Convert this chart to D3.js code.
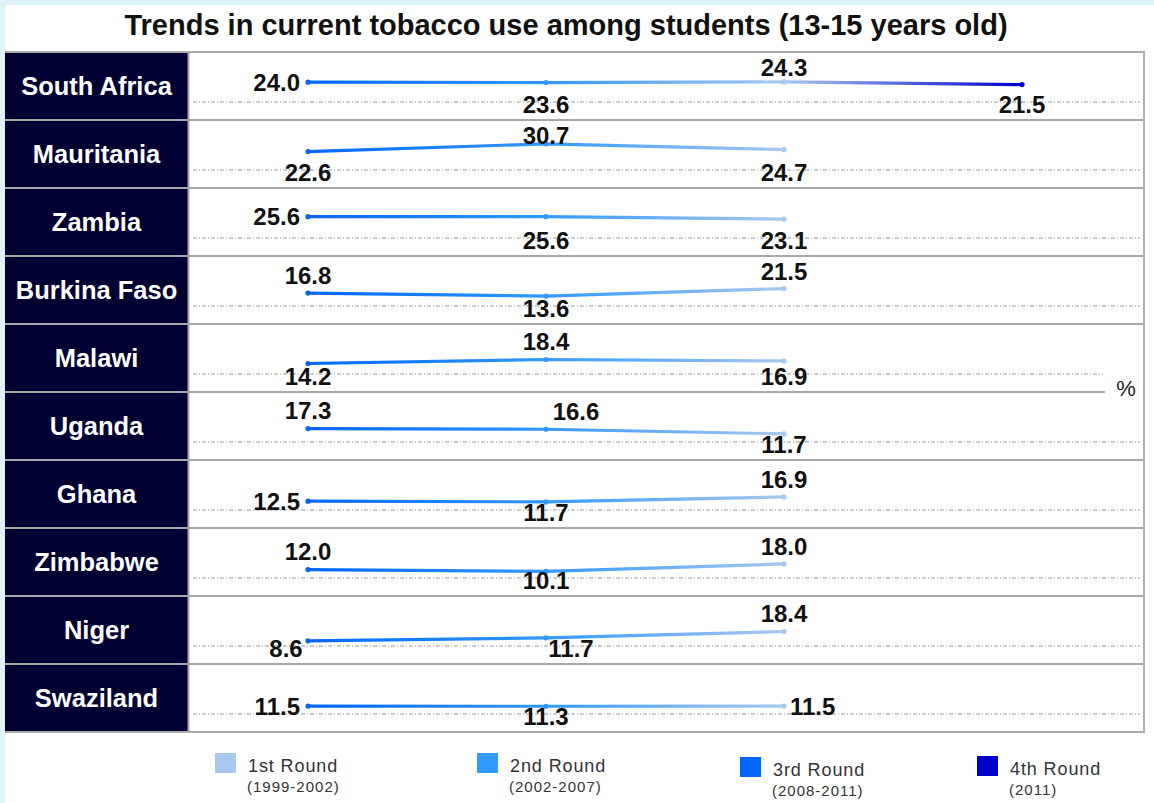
<!DOCTYPE html>
<html><head><meta charset="utf-8">
<script src="https://cdn.jsdelivr.net/npm/d3@7"></script>
<style>
html,body{margin:0;padding:0;background:#dff3fd;overflow:hidden;}
svg{display:block;font-family:"Liberation Sans",Arial,sans-serif;}
</style></head><body>
<svg id="chart" width="1154" height="803"></svg>
<script>
// Current tobacco use (%) among students aged 13-15, by survey round
const countries = ["South Africa","Mauritania","Zambia","Burkina Faso","Malawi","Uganda","Ghana","Zimbabwe","Niger","Swaziland"];
const rounds = ["1st Round","2nd Round","3rd Round","4th Round"];
const roundYears = ["(1999-2002)","(2002-2007)","(2008-2011)","(2011)"];
const roundColors = ["#a8c8ef","#3399ff","#0066ff","#0000cc"];

const southAfrica = [24.0,23.6,24.3,21.5];
const mauritania  = [22.6,30.7,24.7];
const zambia      = [25.6,25.6,23.1];
const burkinaFaso = [16.8,13.6,21.5];
const malawi      = [14.2,18.4,16.9];
const uganda      = [17.3,16.6,11.7];
const ghana       = [12.5,11.7,16.9];
const zimbabwe    = [12.0,10.1,18.0];
const niger       = [8.6,11.7,18.4];
const swaziland   = [11.5,11.3,11.5];
const series = [southAfrica,mauritania,zambia,burkinaFaso,malawi,uganda,ghana,zimbabwe,niger,swaziland];

// where each value label sits relative to its point
const labelSide = [
  ["left","below","above","below"],
  ["below","above","below"],
  ["left","below","below"],
  ["above","below","above"],
  ["below","above","below"],
  ["above","aboveRight","below"],
  ["left","below","above"],
  ["above","below","above"],
  ["belowLeft","belowRight","above"],
  ["left","below","right"]
];
// colour carried by the line at each point position (indices into roundColors)
const pointColorIndex = [2,1,0,3];

const svg = d3.select("#chart");

const panel = {left:5, right:1154, top:5, bottom:803};
const plotTop = 52, plotBottom = 732, labelRight = 188, plotRight = 1144;

svg.append("rect").attr("x",panel.left).attr("y",panel.top)
  .attr("width",panel.right-panel.left).attr("height",panel.bottom-panel.top)
  .attr("fill","#fff");

svg.append("text").attr("x",566).attr("y",35).attr("text-anchor","middle")
  .attr("font-size",29).attr("font-weight","bold").attr("fill","#111")
  .text("Trends in current tobacco use among students (13-15 years old)");

const row = d3.scaleBand().domain(countries).range([plotTop,plotBottom]);
const x = d3.scalePoint().domain(rounds).range([308,1022]);
const yIn = d3.scaleLinear().domain([0,40]).range([53,15]);
const baseY = 50;

// label column
svg.append("rect").attr("x",panel.left).attr("y",plotTop)
  .attr("width",labelRight-panel.left).attr("height",plotBottom-plotTop)
  .attr("fill","#000033");

const defs = svg.append("defs");

const rows = svg.selectAll("g.row").data(countries).join("g")
  .attr("class","row")
  .attr("transform",d=>`translate(0,${row(d)})`);

rows.append("text")
  .attr("x",(panel.left+labelRight)/2).attr("y",row.bandwidth()/2)
  .attr("dy","0.36em").attr("text-anchor","middle")
  .attr("font-size",25.5).attr("font-weight","bold").attr("fill","#fff")
  .text(d=>d);

// dotted reference line in each row
rows.append("line")
  .attr("x1",193).attr("x2",(d,i)=>i===4?1103:1140)
  .attr("y1",baseY).attr("y2",baseY)
  .attr("stroke","#9a9a9a").attr("stroke-width",1.2)
  .attr("stroke-dasharray","4,2,1,2");

// row separators
const edges = d3.range(countries.length+1).map(i=>plotTop+i*row.bandwidth());
svg.selectAll("line.sep").data(edges).join("line")
  .attr("class","sep")
  .attr("x1",panel.left).attr("x2",(d,i)=>i===5?1105:plotRight)
  .attr("y1",d=>d).attr("y2",d=>d)
  .attr("stroke","#a8a8a8").attr("stroke-width",2);
svg.append("line").attr("x1",labelRight+0.5).attr("x2",labelRight+0.5)
  .attr("y1",plotTop).attr("y2",plotBottom).attr("stroke","#a8a8a8").attr("stroke-width",2);
svg.append("line").attr("x1",plotRight).attr("x2",plotRight)
  .attr("y1",plotTop-1).attr("y2",plotBottom+1).attr("stroke","#b0b0b0").attr("stroke-width",2);

svg.append("text").attr("x",1126).attr("y",388).attr("dy","0.36em")
  .attr("text-anchor","middle").attr("font-size",22).attr("fill","#222").text("%");

const line = d3.line().x((d,i)=>x(rounds[i])).y(d=>yIn(d));

rows.each(function(country,ri){
  const g = d3.select(this);
  const vals = series[ri];
  const n = vals.length;
  const x0 = x(rounds[0]), x1 = x(rounds[n-1]);
  const grad = defs.append("linearGradient")
    .attr("id","grad"+ri).attr("gradientUnits","userSpaceOnUse")
    .attr("x1",x0).attr("x2",x1).attr("y1",0).attr("y2",0);
  vals.forEach((v,i)=>{
    grad.append("stop").attr("offset",(x(rounds[i])-x0)/(x1-x0))
      .attr("stop-color",roundColors[pointColorIndex[i]]);
  });
  g.append("path").attr("d",line(vals)).attr("fill","none")
    .attr("stroke",`url(#grad${ri})`).attr("stroke-width",3.2)
    .attr("stroke-linecap","round");
  g.selectAll("circle").data(vals).join("circle")
    .attr("cx",(d,i)=>x(rounds[i])).attr("cy",d=>yIn(d)).attr("r",2.6)
    .attr("fill",(d,i)=>roundColors[pointColorIndex[i]]);
  g.selectAll("text.val").data(vals).join("text")
    .attr("class","val")
    .attr("font-size",24).attr("font-weight","bold").attr("fill","#111")
    .attr("dy","0.36em")
    .each(function(v,i){
      const t = d3.select(this);
      const px = x(rounds[i]), py = yIn(v);
      const side = labelSide[ri][i];
      const aboveY = Math.max(py-18,15);
      const belowY = baseY+2;
      t.text(v.toFixed(1));
      if(side==="left"){
        t.attr("x",px-8).attr("y",py).attr("text-anchor","end");
      } else if(side==="right"){
        t.attr("x",px+6).attr("y",py).attr("text-anchor","start");
      } else if(side==="above"){
        t.attr("x",px).attr("y",aboveY).attr("text-anchor","middle");
      } else if(side==="aboveRight"){
        t.attr("x",px+30).attr("y",aboveY).attr("text-anchor","middle");
      } else if(side==="belowLeft"){
        t.attr("x",px-22).attr("y",belowY).attr("text-anchor","middle");
      } else if(side==="belowRight"){
        t.attr("x",px+25).attr("y",belowY).attr("text-anchor","middle");
      } else {
        t.attr("x",px).attr("y",belowY).attr("text-anchor","middle");
      }
    });
});

// legend
const legendX = [215,477,740,977];
const legendY = [753,753,757,756];
const leg = svg.selectAll("g.leg").data(rounds).join("g")
  .attr("class","leg")
  .attr("transform",(d,i)=>`translate(${legendX[i]},${legendY[i]})`);
leg.append("rect").attr("width",21).attr("height",20)
  .attr("fill",(d,i)=>roundColors[i]);
leg.append("text").attr("x",33).attr("y",19).attr("font-size",18)
  .attr("letter-spacing",0.9).attr("fill","#333").text(d=>d);
leg.append("text").attr("x",32).attr("y",39).attr("font-size",15)
  .attr("letter-spacing",1).attr("fill","#333").text((d,i)=>roundYears[i]);
</script>
</body></html>
